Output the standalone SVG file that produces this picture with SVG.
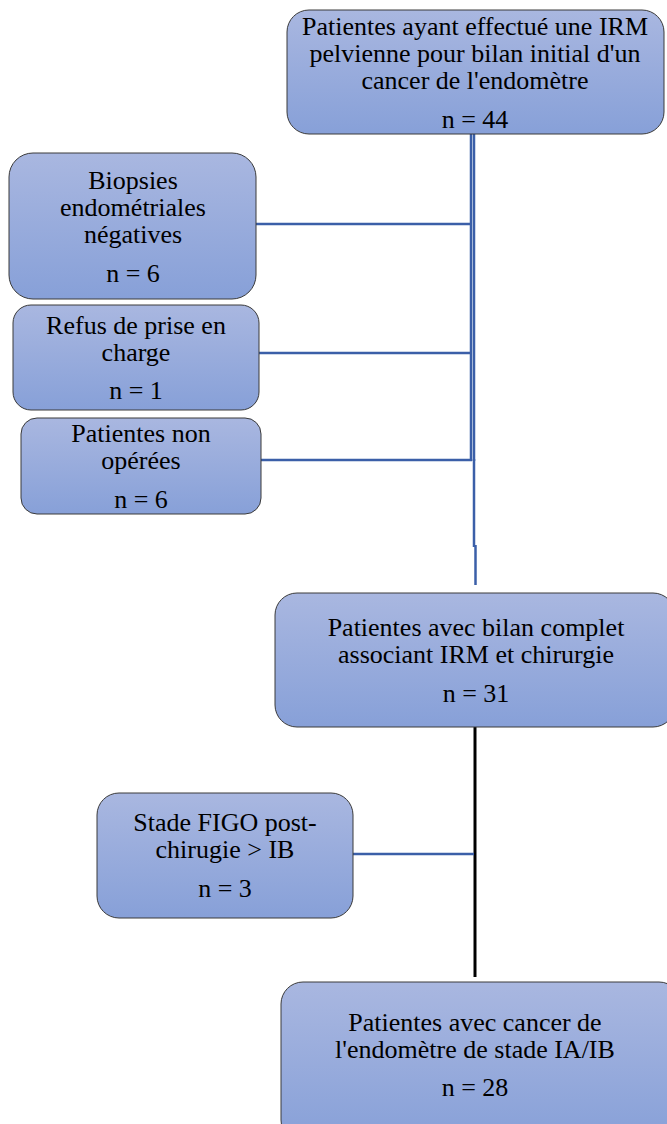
<svg xmlns="http://www.w3.org/2000/svg" width="667" height="1124" viewBox="0 0 667 1124">
<defs>
<linearGradient id="g" x1="0" y1="0" x2="0" y2="1">
<stop offset="0" stop-color="#A9B7E0"/>
<stop offset="1" stop-color="#87A0D8"/>
</linearGradient>
<style>
.box{fill:url(#g);stroke:#3a3a3a;stroke-width:1}
text{font-family:'Liberation Serif','Times New Roman','DejaVu Serif',serif;font-size:26px;fill:#000;text-anchor:middle}
.c{stroke:#3B5FA8;stroke-width:2.5;fill:none}
.k{stroke:#000;stroke-width:3;fill:none}
</style>
</defs>
<g id="connectors">
<line class="c" x1="471" y1="134" x2="471" y2="461"/>
<line class="c" x1="474" y1="134" x2="474" y2="461"/>
<line class="c" x1="474" y1="459" x2="474" y2="547"/>
<line class="c" x1="475.5" y1="545" x2="475.5" y2="585"/>
<line class="c" x1="256" y1="224" x2="472" y2="224"/>
<line class="c" x1="259" y1="353" x2="472" y2="353"/>
<line class="c" x1="261" y1="460" x2="472" y2="460"/>
<line class="k" x1="475" y1="727" x2="475" y2="977"/>
<line class="c" x1="353" y1="854" x2="474" y2="854"/>
</g>
<g id="n44">
<rect class="box" x="287" y="10" width="377" height="124" rx="22"/>
<text x="475" y="35">Patientes ayant effectué une IRM</text>
<text x="475" y="62">pelvienne pour bilan initial d'un</text>
<text x="475" y="89">cancer de l'endomètre</text>
<text x="475" y="128">n = 44</text>
</g>
<g id="biopsies">
<rect class="box" x="9" y="153" width="247" height="146" rx="24"/>
<text x="133" y="189">Biopsies</text>
<text x="133" y="216">endométriales</text>
<text x="133" y="243">négatives</text>
<text x="133" y="282">n = 6</text>
</g>
<g id="refus">
<rect class="box" x="13" y="305" width="246" height="105" rx="18"/>
<text x="136" y="334">Refus de prise en</text>
<text x="136" y="361">charge</text>
<text x="136" y="399">n = 1</text>
</g>
<g id="nonop">
<rect class="box" x="21" y="418" width="240" height="96" rx="16"/>
<text x="141" y="442">Patientes non</text>
<text x="141" y="469">opérées</text>
<text x="141" y="508">n = 6</text>
</g>
<g id="n31">
<rect class="box" x="275" y="593" width="400" height="134" rx="22"/>
<text x="476" y="636">Patientes avec bilan complet</text>
<text x="476" y="663">associant IRM et chirurgie</text>
<text x="476" y="702">n = 31</text>
</g>
<g id="figo">
<rect class="box" x="97" y="793" width="256" height="125" rx="22"/>
<text x="225" y="831">Stade FIGO post-</text>
<text x="225" y="858">chirugie &gt; IB</text>
<text x="225" y="897">n = 3</text>
</g>
<g id="n28">
<rect class="box" x="281" y="982" width="400" height="160" rx="22"/>
<text x="475" y="1031">Patientes avec cancer de</text>
<text x="475" y="1058">l'endomètre de stade IA/IB</text>
<text x="475" y="1096">n = 28</text>
</g>
</svg>
